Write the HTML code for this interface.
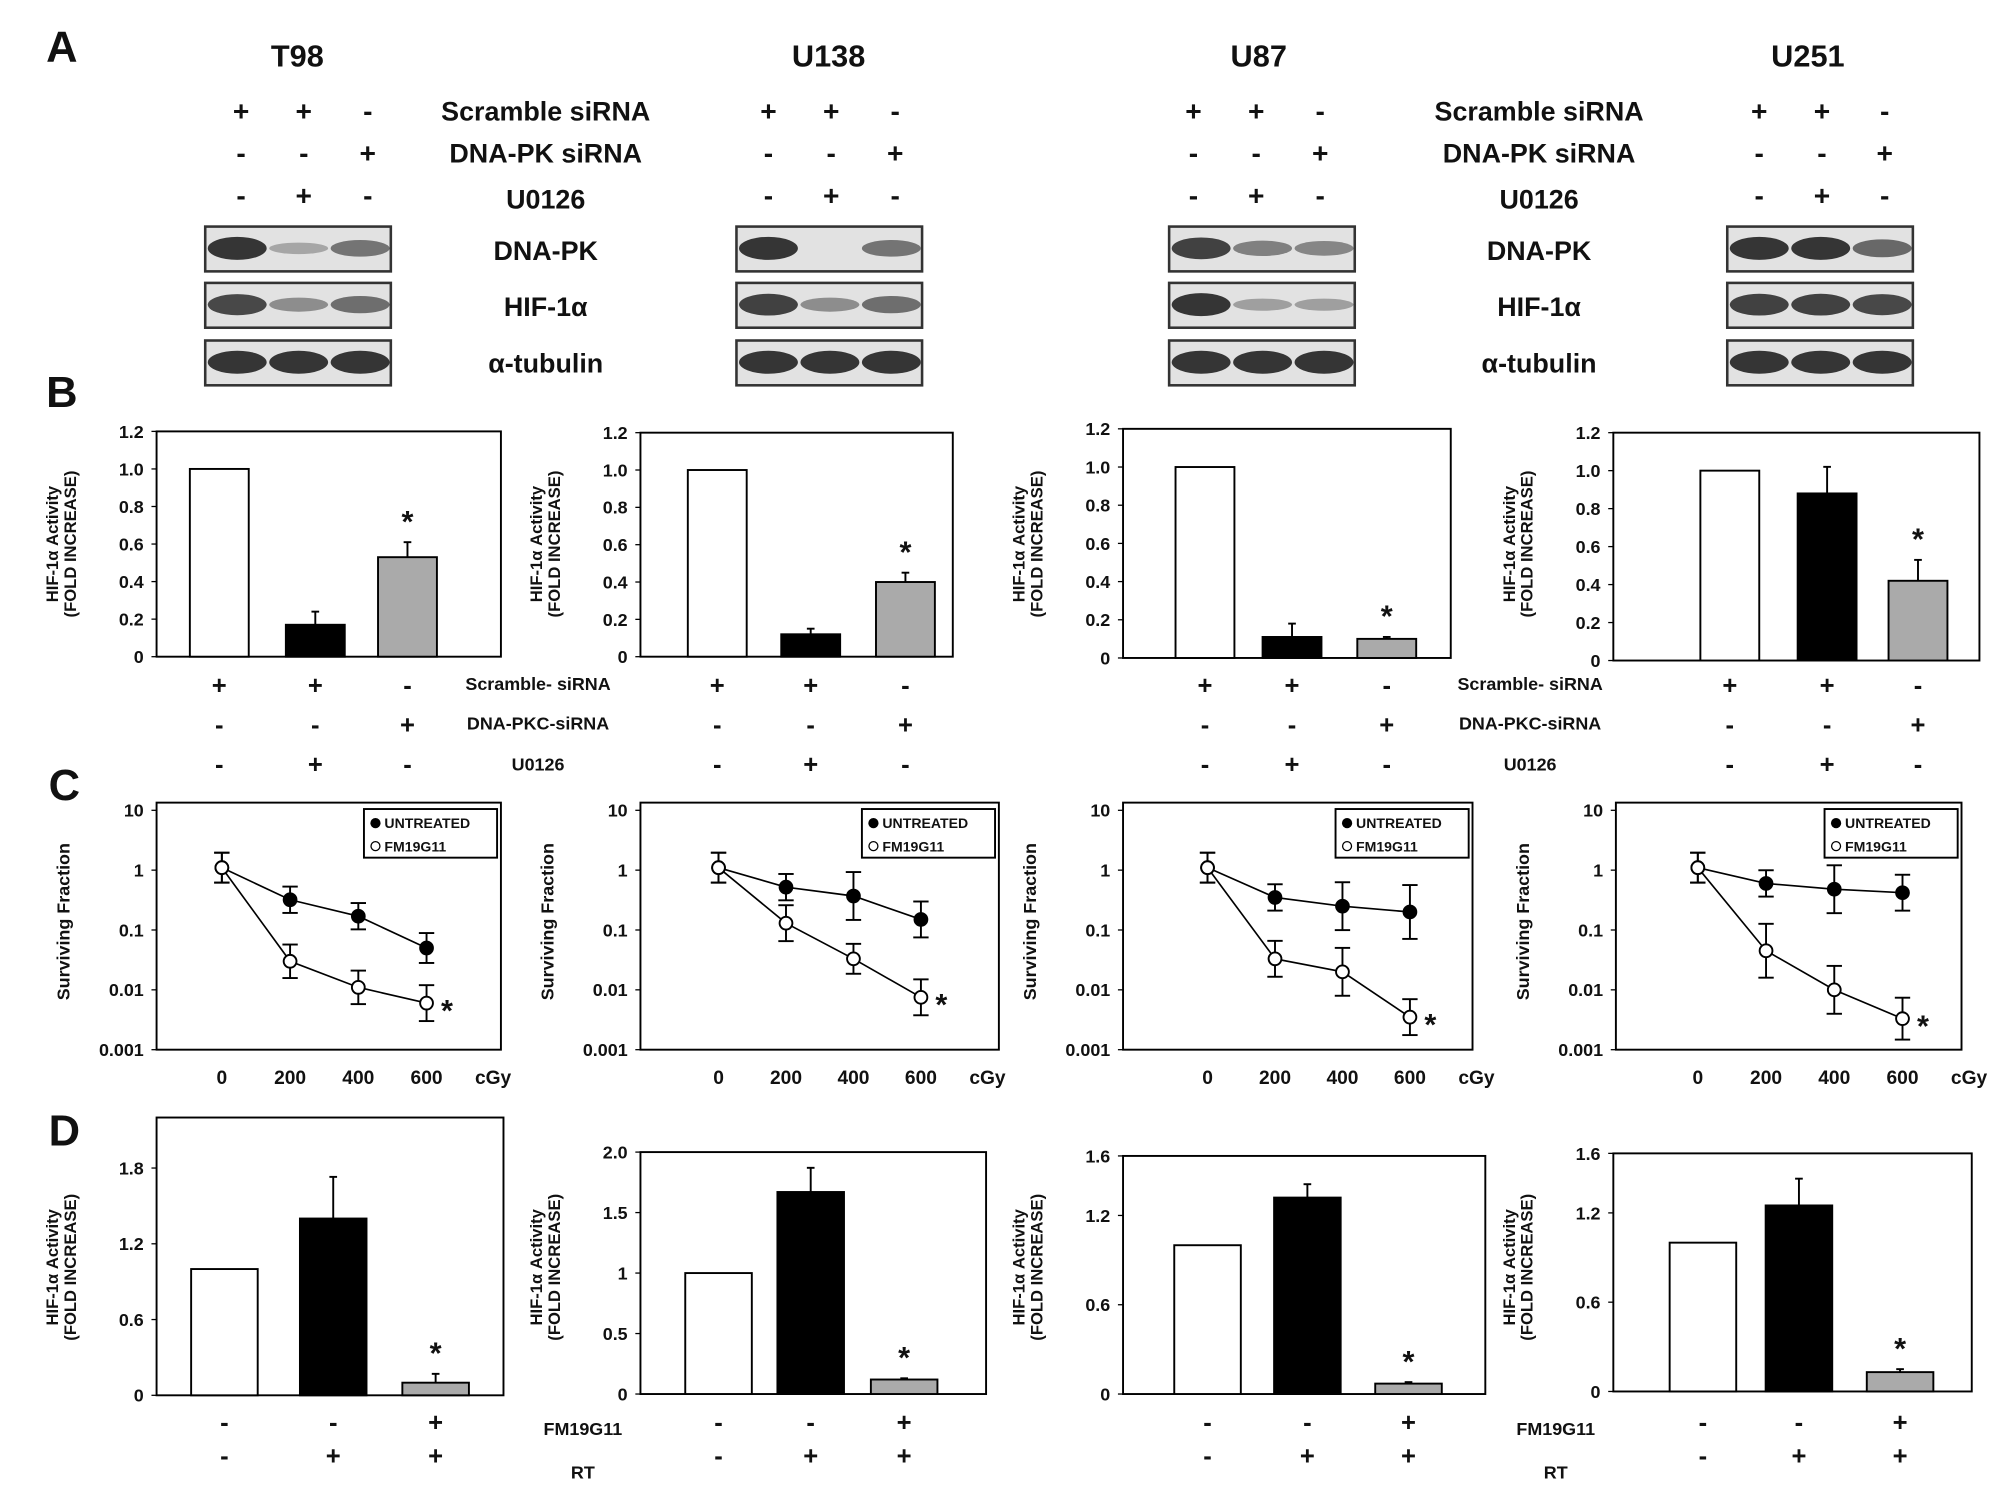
<!DOCTYPE html>
<html><head><meta charset="utf-8"><style>
body{margin:0;background:#fff}
svg{display:block}
text{font-family:"Liberation Sans",sans-serif;font-weight:bold;fill:#111}
</style></head><body>
<svg id="fig" width="2008" height="1499" viewBox="0 0 1568 1171"></svg>
<script>
// ---- data ----
const cellLines=["T98","U138","U87","U251"];
const bCategories=["Scramble","U0126","DNA-PKC-siRNA"];
const bValues=[[1.0,0.17,0.53],[1.0,0.12,0.40],[1.0,0.11,0.10],[1.0,0.88,0.42]];
const bErrors=[[0,0.07,0.08],[0,0.03,0.05],[0,0.07,0.01],[0,0.14,0.11]];
const bTicks=[0,0.2,0.4,0.6,0.8,1.0,1.2];
const doses=[0,200,400,600];
const untreated=[[1.1,0.32,0.17,0.05],[1.1,0.52,0.37,0.15],[1.1,0.35,0.25,0.2],[1.1,0.6,0.48,0.42]];
const fm19g11=[[1.1,0.03,0.011,0.006],[1.1,0.13,0.033,0.0075],[1.1,0.033,0.02,0.0035],[1.1,0.045,0.01,0.0033]];
const untreatedErr=[[0.25,0.22,0.22,0.25],[0.25,0.22,0.4,0.3],[0.25,0.22,0.4,0.45],[0.25,0.22,0.4,0.3]];
const fmErr=[[0.25,0.28,0.28,0.3],[0.25,0.3,0.25,0.3],[0.25,0.3,0.4,0.3],[0.25,0.45,0.4,0.35]];
const logTicks=[10,1,0.1,0.01,0.001];
const dValues=[[1.0,1.4,0.1],[1.0,1.67,0.12],[1.0,1.32,0.07],[1.0,1.25,0.13]];
const dErrors=[[0,0.33,0.07],[0,0.2,0.01],[0,0.09,0.01],[0,0.18,0.02]];
const dTicks=[[0,0.6,1.2,1.8],[0,0.5,1,1.5,2.0],[0,0.6,1.2,1.6],[0,0.6,1.2,1.6]];
const dTickLabels=[["0","0.6","1.2","1.8"],["0","0.5","1","1.5","2.0"],["0","0.6","1.2","1.6"],["0","0.6","1.2","1.6"]];
const dMax=[2.2,2.0,1.6,1.6];

// ---- layout ----
const S="http://www.w3.org/2000/svg",fig=document.getElementById('fig');
function el(t,a,p){const e=document.createElementNS(S,t);for(const k in a)e.setAttribute(k,a[k]);(p||fig).appendChild(e);return e;}
function tx(x,y,s,size,anchor,p,extra){const e=el('text',Object.assign({x:x,y:y,'font-size':size,'text-anchor':anchor||'middle'},extra||{}),p);e.textContent=s;return e;}
function g(name){const e=el('g',{});return e;}

const letters=[["A",48,48],["B",48,318],["C",50,625],["D",50,895]];
letters.forEach(l=>{const t=tx(l[1],l[2],l[0],34,'middle');});

// ---- Panel A ----
const aTitleX=[232,647,983,1412];
const aSignX=[[188,237,287],[600,649,699],[932,981,1031],[1374,1423,1472]];
const aBlotX=[160,575,913,1349];
const aSigns=[["+","+","-"],["-","-","+"],["-","+","-"]];
const gA=g('panel-a');
cellLines.forEach((c,i)=>{
  tx(aTitleX[i],52,c,24,'middle',gA);
  aSigns.forEach((row,r)=>row.forEach((s,k)=>tx(aSignX[i][k],94+r*33,s,22,'middle',gA)));
  const rowsY=[177,221,266];
  const alt=[[[1,0.1,0.5],[0.85,0.3,0.55],[1,1,1]],[[1,0.05,0.5],[0.9,0.3,0.55],[1,1,1]],[[0.9,0.4,0.35],[1,0.15,0.15],[1,1,1]],[[1,1,0.6],[0.9,0.9,0.85],[1,1,1]]][i];
  rowsY.forEach((ry,ri)=>{
    el('rect',{x:aBlotX[i],y:ry,width:145,height:35,fill:'#e2e2e2',stroke:'#333','stroke-width':2},gA);
    alt[ri].forEach((v,k)=>{ if(v>0.05) el('ellipse',{cx:aBlotX[i]+25+k*48,cy:ry+17,rx:23,ry:4+5*v,fill:'#222','fill-opacity':0.25+0.65*v},gA);});
  });
});
[426,1202].forEach(x=>{
  ["Scramble siRNA","DNA-PK siRNA","U0126"].forEach((s,r)=>tx(x,94+r*33+(r==2?3:0),s,21,'middle',gA));
  ["DNA-PK","HIF-1α","α-tubulin"].forEach((s,r)=>tx(x,203+r*44,s,21,'middle',gA));
});

// ---- Bar chart helper ----
const bBox=[[122,391],[500,744],[877,1133],[1260,1546]];
const bBarX=[[171,246,318],[560,633,707],[941,1009,1083],[1351,1427,1498]];
const fills=['#fff','#000','#aaa'];
function barChart(name,box,top,bottom,maxV,ticks,tlabels,vals,errs,barX,bw,p){
  const y=v=>bottom-(v/maxV)*(bottom-top);
  el('rect',{x:box[0],y:top,width:box[1]-box[0],height:bottom-top,fill:'none',stroke:'#000','stroke-width':1.5},p);
  ticks.forEach((t,i)=>{el('line',{x1:box[0]-4,x2:box[0],y1:y(t),y2:y(t),stroke:'#000'},p);tx(box[0]-10,y(t)+5,tlabels[i],14,'end',p);});
  vals.forEach((v,i)=>{
    if(errs[i]>0){el('line',{x1:barX[i],x2:barX[i],y1:y(v),y2:y(v+errs[i]),stroke:'#000','stroke-width':1.5},p);
      el('line',{x1:barX[i]-3,x2:barX[i]+3,y1:y(v+errs[i]),y2:y(v+errs[i]),stroke:'#000','stroke-width':1.5},p);}
    const r=el('rect',{x:barX[i]-bw/2,y:y(v),width:bw,height:bottom-y(v),fill:fills[i],stroke:'#000','stroke-width':1.5},p);
    
  });
  tx(barX[2],y(vals[2]+errs[2])-8,'*',24,'middle',p,{'font-weight':'normal'});
  return y;
}
function yTitle(x,cy,p){
  tx(0,0,'HIF-1α  Activity',13,'middle',p,{transform:`translate(${x},${cy}) rotate(-90)`,'font-weight':'normal'});
  tx(0,0,'(FOLD INCREASE)',13,'middle',p,{transform:`translate(${x+14},${cy}) rotate(-90)`,'font-weight':'normal'});
}

// ---- Panel B ----
const bSigns=[["+","+","-"],["-","-","+"],["-","+","-"]];
bValues.forEach((vals,i)=>{
  const p=g('panel-b-chart-'+cellLines[i]);
  barChart('b-'+i,bBox[i],[337,338,335,338][i],[513,513,514,516][i],1.2,bTicks,bTicks.map(t=>t==0?'0':t.toFixed(1)),vals,bErrors[i],bBarX[i],46,p);
  yTitle(bBox[i][0]-77,425,p);
  bSigns.forEach((row,r)=>row.forEach((s,k)=>tx(bBarX[i][k],542+r*31,s,20,'middle',p)));
});
[420,1195].forEach(x=>["Scramble- siRNA","DNA-PKC-siRNA","U0126"].forEach((s,r)=>tx(x,539+r*31+(r==2?1:0),s,14,'middle')));

// ---- Panel C ----
const cBox=[[122,391],[500,780],[877,1150],[1262,1532]];
const cDoseX0=[173,561,943,1326],cDoseStep=[53.3,52.7,52.7,53.3];
const cTop=627,cBottom=820;
cellLines.forEach((c,i)=>{
  const p=g('panel-c-chart-'+c);
  const ly=v=>cBottom-(Math.log10(v)+3)*(cBottom-633)/4;
  const lx=d=>cDoseX0[i]+d/200*cDoseStep[i];
  el('rect',{x:cBox[i][0],y:cTop,width:cBox[i][1]-cBox[i][0],height:cBottom-cTop,fill:'none',stroke:'#000','stroke-width':1.5},p);
  logTicks.forEach(t=>{el('line',{x1:cBox[i][0]-4,x2:cBox[i][0],y1:ly(t),y2:ly(t),stroke:'#000'},p);tx(cBox[i][0]-10,ly(t)+5,String(t),14,'end',p);});
  doses.forEach(d=>{tx(lx(d),847,String(d),15,'middle',p);});
  tx(lx(600)+52,847,'cGy',15,'middle',p);
  tx(0,0,'Surviving Fraction',14,'middle',p,{transform:`translate(${cBox[i][0]-68},${720}) rotate(-90)`,'font-weight':'normal'});
  [[untreated[i],untreatedErr[i],'#000','untreated'],[fm19g11[i],fmErr[i],'#fff','fm19g11']].forEach(([vals,err,fill,nm])=>{
    el('polyline',{points:vals.map((v,k)=>lx(doses[k])+','+ly(v)).join(' '),fill:'none',stroke:'#000','stroke-width':1.3},p);
    vals.forEach((v,k)=>{
      const x=lx(doses[k]),y1=ly(v*Math.pow(10,err[k])),y2=ly(v/Math.pow(10,err[k]));
      el('line',{x1:x,x2:x,y1:y1,y2:y2,stroke:'#000','stroke-width':1.5},p);
      [y1,y2].forEach(yy=>el('line',{x1:x-6,x2:x+6,y1:yy,y2:yy,stroke:'#000','stroke-width':1.5},p));
      const m=el('circle',{cx:x,cy:ly(v),r:5,fill:fill,stroke:'#000','stroke-width':1.5},p);
      
    });
  });
  tx(lx(600)+16,ly(fm19g11[i][3])+14,'*',24,'middle',p,{'font-weight':'normal'});
  const lgx=cBox[i][1]-107,lgy=632;
  const lg=el('rect',{x:lgx,y:lgy,width:104,height:38,fill:'#fff',stroke:'#000','stroke-width':1.5},p);
  
  el('circle',{cx:lgx+9,cy:lgy+11,r:4,fill:'#000'},p);tx(lgx+16,lgy+15,'UNTREATED',11,'start',p);
  el('circle',{cx:lgx+9,cy:lgy+29,r:3.5,fill:'#fff',stroke:'#000'},p);tx(lgx+16,lgy+33,'FM19G11',11,'start',p);
});

// ---- Panel D ----
const dBox=[[122,393],[500,770],[877,1160],[1260,1540]];
const dTop=[873,900,903,901],dBottom=[1090,1089,1089,1087];
const dBarX=[[175,260,340],[561,633,706],[943,1021,1100],[1330,1405,1484]];
const dSigns=[["-","-","+"],["-","+","+"]];
dValues.forEach((vals,i)=>{
  const p=g('panel-d-chart-'+cellLines[i]);
  barChart('d-'+i,dBox[i],dTop[i],dBottom[i],dMax[i],dTicks[i],dTickLabels[i],vals,dErrors[i],dBarX[i],52,p);
  yTitle(dBox[i][0]-77,990,p);
  dSigns.forEach((row,r)=>row.forEach((s,k)=>tx(dBarX[i][k],1118+r*26,s,20,'middle',p)));
});
[455,1215].forEach(x=>{tx(x,1121,'FM19G11',14,'middle');tx(x,1155,'RT',14,'middle');});
</script>
</body></html>
